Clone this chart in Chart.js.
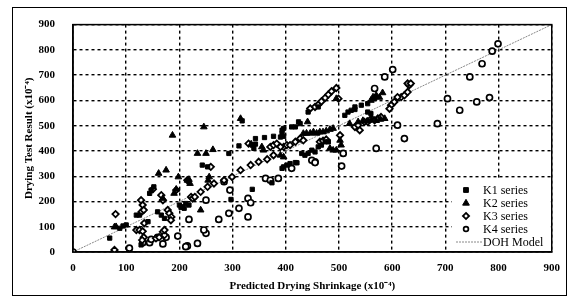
<!DOCTYPE html>
<html>
<head>
<meta charset="utf-8">
<script src="https://cdn.jsdelivr.net/npm/chart.js@4.4.1/dist/chart.umd.min.js"></script>
<style>
  html, body { margin: 0; padding: 0; background: #fff; }
  #wrap { width: 570px; height: 298px; position: relative; }
</style>
</head>
<body>
<div id="wrap"><canvas id="c" width="570" height="298"></canvas></div>
<script>
// ---- data, units x10^-4 ----
const axisTicks = [0, 100, 200, 300, 400, 500, 600, 700, 800, 900];
const seriesNames = ["K1 series", "K2 series", "K3 series", "K4 series", "DOH Model"];

const k1 = [[69,55],[88,94],[94,103],[100,107],[119,146],[125,146],[141,120],[144,232],[147,245],[152,258],
  [159,159],[166,146],[172,133],[200,186],[206,179],[212,192],[218,186],[209,173],[203,177],[128,28],
  [243,344],[253,337],[293,390],[312,420],[318,519],[337,423],[343,427],[340,410],[377,458],[396,458],
  [396,489],[393,469],[396,337],[337,248],[297,208],[393,482],[390,455],[442,554],[427,508],[418,495],
  [411,495],[430,390],[436,383],[442,390],[449,403],[455,396],[461,416],[467,423],[474,436],[480,436],
  [393,331],[402,344],[408,350],[418,354],[530,574],[542,581],[554,587],[567,607],[360,453],[343,449],
  [511,541],[517,554],[523,561],[530,564],[554,554],[560,548],[424,515],[461,574],[374,274],[421,353]];

const k2 = [[78,99],[81,100],[161,311],[175,324],[198,297],[194,248],[190,232],[218,287],[220,271],[187,462],
  [246,495],[315,528],[234,390],[250,390],[263,405],[256,297],[254,284],[215,284],[169,212],[240,166],
  [335,427],[390,383],[396,376],[433,469],[439,470],[446,470],[452,475],[458,470],[464,475],[470,475],
  [476,479],[483,485],[489,489],[489,403],[502,442],[504,423],[520,508],[483,410],[495,403],[536,515],
  [545,520],[553,518],[561,523],[570,520],[578,525],[586,528],[355,416],[358,403],[441,515],[495,607],
  [564,613],[570,620],[576,612],[560,600],[582,630]];

const k3 = [[80,150],[78,8],[119,87],[125,87],[131,82],[133,58],[150,248],[166,225],[169,205],[128,205],
  [131,186],[129,159],[133,166],[178,166],[181,153],[185,139],[184,126],[222,218],[225,212],[156,54],
  [169,80],[172,67],[134,114],[172,87],[162,58],[130,47],[259,337],[194,245],[215,284],
  [229,218],[240,238],[253,258],[265,271],[284,284],[299,297],[315,324],[334,344],[349,357],[365,367],
  [377,383],[396,416],[371,416],[377,423],[383,429],[390,416],[402,423],[408,423],[418,436],[427,449],
  [433,442],[446,568],[455,574],[461,583],[467,596],[474,610],[480,623],[486,636],[495,649],[499,607],
  [502,462],[530,495],[536,502],[539,482],[548,515],[554,515],[561,528],[567,521],[573,528],[579,534],
  [617,613],[623,620],[629,633],[632,660],[629,667],[635,667],[610,613],[604,594],[598,581],[595,567],
  [464,436],[470,440],[476,445],[330,429]];

const k4 = [[0,0],[106,15],[131,37],[144,37],[147,50],[169,32],[175,58],[197,63],[215,24],[234,34],
  [250,74],[246,87],[218,129],[274,129],[293,153],[312,173],[329,139],[329,212],[295,245],[284,278],
  [250,205],[334,195],[362,291],[371,284],[386,291],[411,331],[455,357],[505,340],[449,363],[455,354],
  [508,390],[570,410],[623,449],[610,502],[685,508],[704,607],[727,561],[759,594],[783,611],[746,693],
  [769,745],[788,795],[799,824],[586,693],[601,722],[567,647],[212,21],[159,58]];

const dohModel = [[0,0],[900,900]];

// ---- chart ----
const toPts = a => a.map(p => ({x: p[0], y: p[1]}));
const SERIF = "'Liberation Serif', 'Times New Roman', serif";

function drawMarker(ctx, style, r, x, y) {
  ctx.beginPath();
  if (style === 'rect') { ctx.rect(x - r, y - r, 2*r, 2*r); }
  else if (style === 'triangle') { ctx.moveTo(x, y - r*1.2); ctx.lineTo(x + r*1.1, y + r*0.7); ctx.lineTo(x - r*1.1, y + r*0.7); ctx.closePath(); }
  else if (style === 'rectRot') { ctx.moveTo(x, y - r*1.2); ctx.lineTo(x + r*1.2, y); ctx.lineTo(x, y + r*1.2); ctx.lineTo(x - r*1.2, y); ctx.closePath(); }
  else { ctx.arc(x, y, r, 0, Math.PI*2); }
  ctx.fill(); ctx.stroke();
}

const framePlugin = {
  id: 'frame',
  beforeDraw(chart) {
    const ctx = chart.ctx;
    ctx.save();
    ctx.fillStyle = '#fff';
    ctx.fillRect(0, 0, chart.width, chart.height);
    ctx.strokeStyle = '#000';
    ctx.lineWidth = 1;
    ctx.strokeRect(12.5, 7.5, 554, 288);
    ctx.restore();
  },
  afterDatasetsDraw(chart) {
    const a = chart.chartArea, ctx = chart.ctx;
    const lx = 452, ly = 180, lw = a.right - 452 - 1, lh = a.bottom - 180 - 1;
    ctx.save();
    ctx.fillStyle = '#fff';
    ctx.fillRect(lx, ly, lw, lh);
    ctx.font = "12px " + SERIF;
    ctx.textBaseline = 'middle';
    ctx.textAlign = 'left';
    chart.data.datasets.forEach((ds, i) => {
      const y = 190 + i * 13;
      ctx.save();
      if (ds.type === 'line') {
        ctx.strokeStyle = ds.borderColor;
        ctx.lineWidth = ds.borderWidth;
        ctx.setLineDash(ds.borderDash || []);
        ctx.beginPath(); ctx.moveTo(456, y); ctx.lineTo(482, y); ctx.stroke();
      } else {
        ctx.fillStyle = ds.backgroundColor; ctx.strokeStyle = ds.borderColor; ctx.lineWidth = ds.borderWidth;
        drawMarker(ctx, ds.pointStyle, ds.pointRadius * 0.8, 466, y);
      }
      ctx.restore();
      ctx.fillStyle = '#000';
      ctx.fillText(ds.label, 483, y + 0.5);
    });
    ctx.strokeStyle = '#000';
    ctx.lineWidth = 1.5;
    ctx.setLineDash([]);
    ctx.strokeRect(a.left, a.top, a.right - a.left, a.bottom - a.top);
    ctx.restore();
  }
};

const tickFont = { family: SERIF, size: 11, weight: 'bold' };
const titleFont = { family: SERIF, size: 11, weight: 'bold' };

new Chart(document.getElementById('c'), {
  type: 'scatter',
  data: {
    datasets: [
      { label: seriesNames[0], data: toPts(k1), pointStyle: 'rect', pointRadius: 3, borderWidth: 1,
        backgroundColor: '#000', borderColor: '#000', order: 1 },
      { label: seriesNames[1], data: toPts(k2), pointStyle: 'triangle', pointRadius: 3.8, borderWidth: 1,
        backgroundColor: '#000', borderColor: '#000', order: 2 },
      { label: seriesNames[2], data: toPts(k3), pointStyle: 'rectRot', pointRadius: 3.2, borderWidth: 1.8,
        backgroundColor: '#fff', borderColor: '#000', order: 3 },
      { label: seriesNames[3], data: toPts(k4), pointStyle: 'circle', pointRadius: 3, borderWidth: 1.7,
        backgroundColor: '#fff', borderColor: '#000', order: 4 },
      { type: 'line', label: seriesNames[4], data: toPts(dohModel), borderColor: '#888', borderWidth: 1,
        borderDash: [2, 1], pointRadius: 0, fill: false, order: 5 }
    ]
  },
  options: {
    responsive: false,
    animation: false,
    events: [],
    layout: { padding: { left: 14, top: 24, right: 15, bottom: 4 } },
    plugins: { legend: { display: false }, tooltip: { enabled: false } },
    scales: {
      x: {
        type: 'linear', min: 0, max: 900,
        afterBuildTicks: s => { s.ticks = axisTicks.map(v => ({ value: v })); },
        afterFit: s => { s.height = 42; },
        ticks: { font: tickFont, color: '#000', padding: 10, maxRotation: 0 },
        grid: { color: '#000', lineWidth: 1.4, drawTicks: false },
        border: { display: true, color: '#000', width: 1.5, dash: [3, 3] },
        title: { display: true, text: 'Predicted Drying Shrinkage (x10⁻⁴)', font: titleFont, color: '#000',
                 padding: { top: 0, bottom: 1 } }
      },
      y: {
        type: 'linear', min: 0, max: 900,
        afterBuildTicks: s => { s.ticks = axisTicks.map(v => ({ value: v })); },
        afterFit: s => { s.width = 59; },
        ticks: { font: tickFont, color: '#000', padding: 18 },
        grid: { color: '#000', lineWidth: 1.4, drawTicks: false },
        border: { display: true, color: '#000', width: 1.5, dash: [3, 3] },
        title: { display: true, text: 'Drying Test Result (x10⁻⁴)', font: titleFont, color: '#000',
                 padding: { top: 9, bottom: 0 } }
      }
    }
  },
  plugins: [framePlugin]
});
</script>
</body>
</html>
